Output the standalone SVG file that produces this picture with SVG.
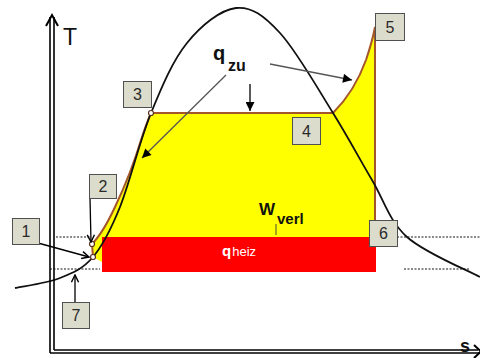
<svg xmlns="http://www.w3.org/2000/svg" width="480" height="358" viewBox="0 0 480 358">
<style>
.box rect{fill:#dcdccc;stroke:#505050;stroke-width:1}
.box text{font-family:"Liberation Sans",Arial,sans-serif;font-size:16px;fill:#2a2a2a;text-anchor:middle}
.brown{fill:none;stroke:#a4552c;stroke-width:2}
.dot{fill:none;stroke:#8a8a8a;stroke-width:2;stroke-dasharray:2,1.5}
.pt{fill:#fff;stroke:#5a3020;stroke-width:1.2}
.lbl{font-family:"Liberation Sans",Arial,sans-serif;font-weight:bold;fill:#111}
.ax{stroke:#000;stroke-width:1.6;fill:none}
.c1{stroke:#000;stroke-width:1.3;fill:none}
.c2{stroke:#555;stroke-width:1.3;fill:none}
</style>
<defs>
<marker id="tri" viewBox="0 0 10 10" refX="10" refY="5" markerWidth="12" markerHeight="9" markerUnits="userSpaceOnUse" orient="auto"><path d="M0,0 L10,5 L0,10 Z" fill="#000"/></marker>
<marker id="chev" viewBox="0 0 10 10" refX="9" refY="5" markerWidth="9" markerHeight="9" markerUnits="userSpaceOnUse" orient="auto"><path d="M1,1 L9,5 L1,9" fill="none" stroke="#000" stroke-width="1.6"/></marker>
</defs>
<rect width="480" height="358" fill="#fff"/>
<!-- dotted reference lines -->
<g id="guides">
<line class="dot" x1="56" y1="237" x2="90" y2="237"/>
<line class="dot" x1="397" y1="237" x2="480" y2="237"/>
<line class="dot" x1="50" y1="269" x2="100" y2="269"/>
<line class="dot" x1="404" y1="269" x2="470" y2="269"/>
</g>
<!-- yellow area -->
<path id="area" d="M93,257 L92,244 C100,236 108,222 115,207 C125,186 135,160 141,140 C145,128 148,120 151,113 L333,113 C348,98 358,82 366,60 C370,48 373,38 375,27 L375,262 L102,262 Z" fill="#ffff00"/>
<rect id="qheiz" x="102" y="237" width="274" height="35" fill="#ff0000"/>
<text x="222" y="256" font-family="Liberation Sans,Arial,sans-serif" fill="#fff"><tspan font-size="15" font-weight="bold">q</tspan><tspan font-size="13" dx="1">heiz</tspan></text>
<!-- process lines -->
<g id="process">
<path class="brown" d="M93,257 L92,244 C100,236 108,222 115,207 C125,186 135,160 141,140 C145,128 148,120 151,113 L333,113 C348,98 358,82 366,60 C370,48 373,38 375,27 L375,237"/>
</g>
<!-- saturation curve -->
<path id="sat" fill="none" stroke="#111" stroke-width="1.8" d="M15,288 C22.5,286.3 47,283.2 60,278 C73,272.8 83,268.8 93,257 C103,245.2 110.3,231 120,207 C129.7,183 139.8,140.3 151,113 C162.2,85.7 172.8,60.5 187,43 C201.2,25.5 220.5,9.7 236,8 C251.5,6.3 263.8,15.5 280,33 C296.2,50.5 317.7,88.5 333,113 C348.3,137.5 359.7,159.3 372,180 C384.3,200.7 389,220.8 407,237 C425,253.2 467.8,270.3 480,277"/>
<!-- points -->
<circle class="pt" cx="151" cy="113" r="2.5"/>
<circle class="pt" cx="92" cy="244" r="2.5"/>
<circle class="pt" cx="93" cy="257" r="2.5"/>
<!-- axes -->
<g id="axes">
<line class="ax" x1="50" y1="17" x2="50" y2="353"/>
<line class="ax" x1="54" y1="17" x2="54" y2="350"/>
<path d="M46,26 L52,15 L58,26" fill="none" stroke="#000" stroke-width="2"/>
<line class="ax" x1="50" y1="353" x2="480" y2="353"/>
<line class="ax" x1="54" y1="350" x2="478" y2="350"/>
<path d="M474,345 L481,351.5 L474,358" fill="none" stroke="#000" stroke-width="2"/>
<text x="63" y="45" font-family="Liberation Sans,Arial,sans-serif" font-size="23" fill="#111">T</text>
<text class="lbl" x="460" y="352" font-size="18">s</text>
</g>
<!-- labels -->
<text class="lbl" x="213" y="60" font-size="20">q</text>
<text class="lbl" x="228" y="71" font-size="16">zu</text>
<text class="lbl" x="259" y="215" font-size="17">W</text>
<text class="lbl" x="277" y="224" font-size="15">verl</text>
<line x1="276" y1="224" x2="276" y2="235" stroke="#9a9a20" stroke-width="1.8"/>
<!-- connectors -->
<g id="connectors">
<line class="c2" x1="226" y1="75" x2="142" y2="158" marker-end="url(#tri)"/>
<line class="c2" x1="270" y1="64" x2="352" y2="80" marker-end="url(#tri)"/>
<line class="c1" x1="250" y1="84" x2="250" y2="111" marker-end="url(#tri)"/>
<line class="c1" x1="38" y1="243" x2="89" y2="257" marker-end="url(#chev)"/>
<line class="c1" x1="90" y1="198" x2="91" y2="242" marker-end="url(#chev)"/>
<line class="c1" x1="75" y1="302" x2="75" y2="275" marker-end="url(#chev)"/>
</g>
<!-- nodes -->
<g id="n1" class="box"><rect x="12.5" y="218.5" width="27" height="26"/><text x="26" y="237">1</text></g>
<g id="n2" class="box"><rect x="89.5" y="174.5" width="27" height="24"/><text x="103" y="192">2</text></g>
<g id="n3" class="box"><rect x="123.5" y="81.5" width="28" height="26"/><text x="137.5" y="100">3</text></g>
<g id="n4" class="box"><rect x="292.5" y="117.5" width="28" height="27"/><text x="306.5" y="137">4</text></g>
<g id="n5" class="box"><rect x="375.5" y="13.5" width="29" height="27"/><text x="390" y="33">5</text></g>
<g id="n6" class="box"><rect x="369.5" y="220.5" width="28" height="26"/><text x="383.5" y="239">6</text></g>
<g id="n7" class="box"><rect x="62.5" y="302.5" width="27" height="26"/><text x="76" y="321">7</text></g>
</svg>
